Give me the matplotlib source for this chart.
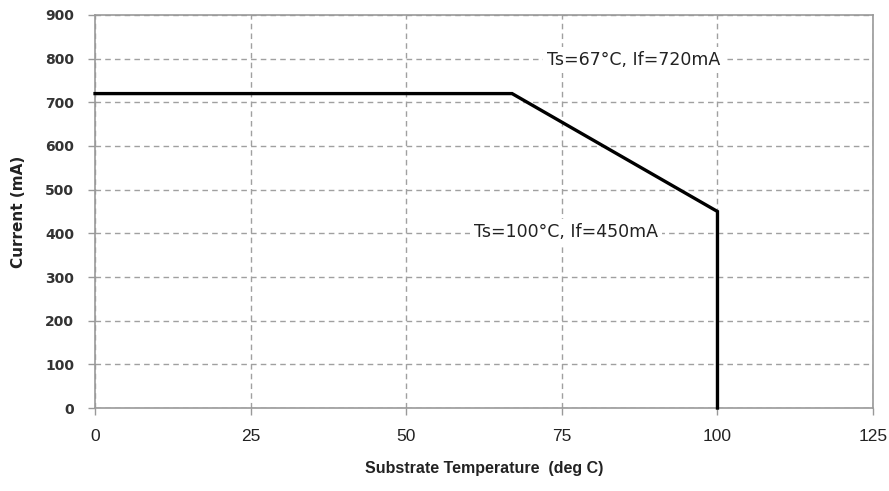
import matplotlib
matplotlib.use("Agg")
import matplotlib.pyplot as plt

temps = [0, 67, 100, 100]
currents = [720, 720, 450, 0]
x_ticks = [0, 25, 50, 75, 100, 125]
y_ticks = [0, 100, 200, 300, 400, 500, 600, 700, 800, 900]
annotations = [("Ts=67\u00b0C, If=720mA", 86.6, 797), ("Ts=100\u00b0C, If=450mA", 75.7, 403)]

fig = plt.figure(figsize=(8.89, 4.91), dpi=100)
ax = fig.add_axes([0.1069, 0.169, 0.8752, 0.8005])
ax.plot(temps, currents, color="black", lw=2.4, solid_joinstyle="miter", zorder=3, clip_on=False)
ax.set_xlim(0, 125)
ax.set_ylim(0, 900)
ax.set_xticks(x_ticks)
ax.set_yticks(y_ticks)
ax.grid(True, color="#a0a0a0", linestyle=(0, (4, 3)), lw=1.0)
for s in ax.spines.values():
    s.set_color("#999999")
    s.set_linewidth(1.2)
ax.tick_params(axis="both", colors="#999999", length=5, width=1.0)
for lbl in ax.get_yticklabels():
    lbl.set_color("#333333")
    lbl.set_fontsize(10)
    lbl.set_fontweight("bold")
for lbl in ax.get_xticklabels():
    lbl.set_color("#222222")
    lbl.set_fontsize(12.5)
    lbl.set_family("Liberation Sans")
ax.tick_params(axis="x", pad=10)
ax.tick_params(axis="y", pad=10)
ax.set_xlabel("Substrate Temperature  (deg C)", fontsize=11.5,
              fontweight="bold", color="#222222", labelpad=12, family="Liberation Sans")
ax.set_ylabel("Current (mA)", fontsize=11, fontweight="bold", color="#222222", labelpad=14)
for txt, x, y in annotations:
    ax.text(x, y, txt, ha="center", va="center", fontsize=12.5, color="#222222",
            bbox=dict(facecolor="white", edgecolor="none", pad=3), zorder=4)
fig.savefig("out.png", dpi=100)
